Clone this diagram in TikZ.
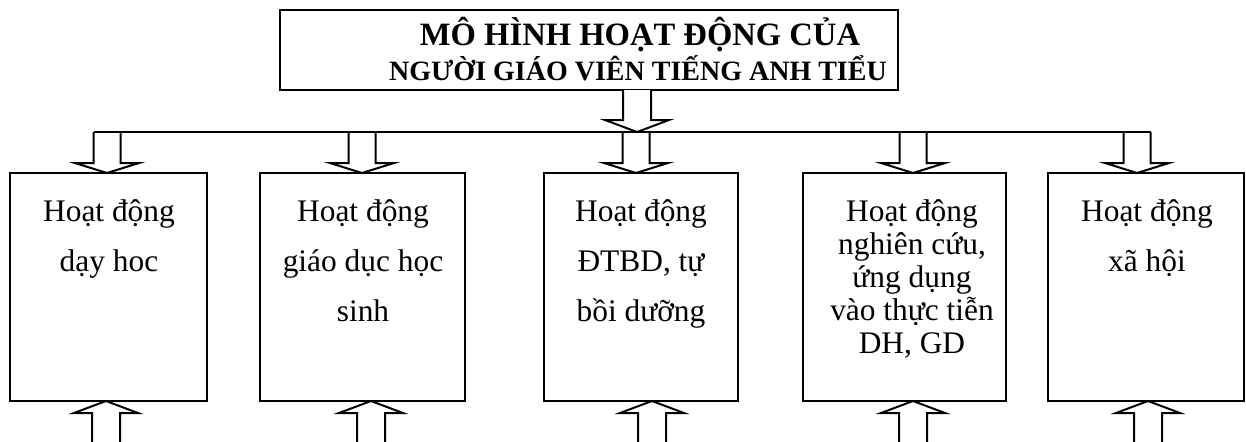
\documentclass[tikz,border=0pt]{standalone}
\usepackage{fontspec}
\setmainfont{Liberation Serif}
\newcommand\myDown[1]{%
  \draw[blk] (#1-13.5,132) -- (#1-13.5,163) -- (#1-32,163) -- (#1,173) -- (#1+32,163) -- (#1+13.5,163) -- (#1+13.5,132);}
\newcommand\myUp[1]{%
  \draw[blk] (#1-14,445) -- (#1-14,413) -- (#1-32,413) -- (#1,401) -- (#1+32,413) -- (#1+14,413) -- (#1+14,445);}
\begin{document}
\begin{tikzpicture}[x=0.5pt,y=-0.5pt,
  box/.style={draw, line width=1pt, rectangle, inner sep=0pt, minimum height=114pt},
  txt/.style={align=center, inner sep=0pt, anchor=north, font=\fontsize{15.7}{25}\selectfont},
  ttl/.style={inner sep=0pt, anchor=base},
  blk/.style={draw, line width=1pt, line join=miter}]
\useasboundingbox (0,0) rectangle (1246,441);
% title
\node[draw, line width=1pt, inner sep=0pt, minimum width=309pt, minimum height=40pt] (title) at (589,50) {};
\node[ttl, font=\bfseries\fontsize{16.3}{17.5}\selectfont] (title1) at (640,45) {MÔ HÌNH HOẠT ĐỘNG CỦA};
\node[ttl, font=\bfseries\fontsize{14}{17.5}\selectfont] (title2) at (638,80) {NGƯỜI GIÁO VIÊN TIẾNG ANH TIỂU};
% boxes
\node[box, minimum width=98.5pt] (b1) at (108.5,287) {};
\node[box, minimum width=102.5pt] (b2) at (362.5,287) {};
\node[box, minimum width=97pt] (b3) at (641,287) {};
\node[box, minimum width=101.5pt] (b4) at (904.5,287) {};
\node[box, minimum width=98pt] (b5) at (1146,287) {};
% texts
\node[txt] (t1) at (109,199) {Hoạt động\\dạy hoc};
\node[txt] (t2) at (363,199) {Hoạt động\\giáo dục học\\sinh};
\node[txt] (t3) at (641,199) {Hoạt động\\ĐTBD, tự\\bồi dưỡng};
\node[txt, font=\fontsize{15.7}{16.5}\selectfont] (t4) at (912,199) {Hoạt động\\nghiên cứu,\\ứng dụng\\vào thực tiễn\\DH, GD};
\node[txt] (t5) at (1147,199) {Hoạt động\\xã hội};
% main arrow
\draw[blk, fill=white] (623,90) -- (623,120) -- (605,120) -- (637,132) -- (669,120) -- (651,120) -- (651,90);
% distribution line
\coordinate (hl) at (93.5,132);
\coordinate (hr) at (1150.5,132);
\draw[line width=1pt] (hl) -- (hr);
\myDown{107}
\myDown{362}
\myDown{636}
\myDown{913}
\myDown{1137}
\myUp{106}
\myUp{371}
\myUp{652}
\myUp{913}
\myUp{1148}
\end{tikzpicture}
\end{document}
